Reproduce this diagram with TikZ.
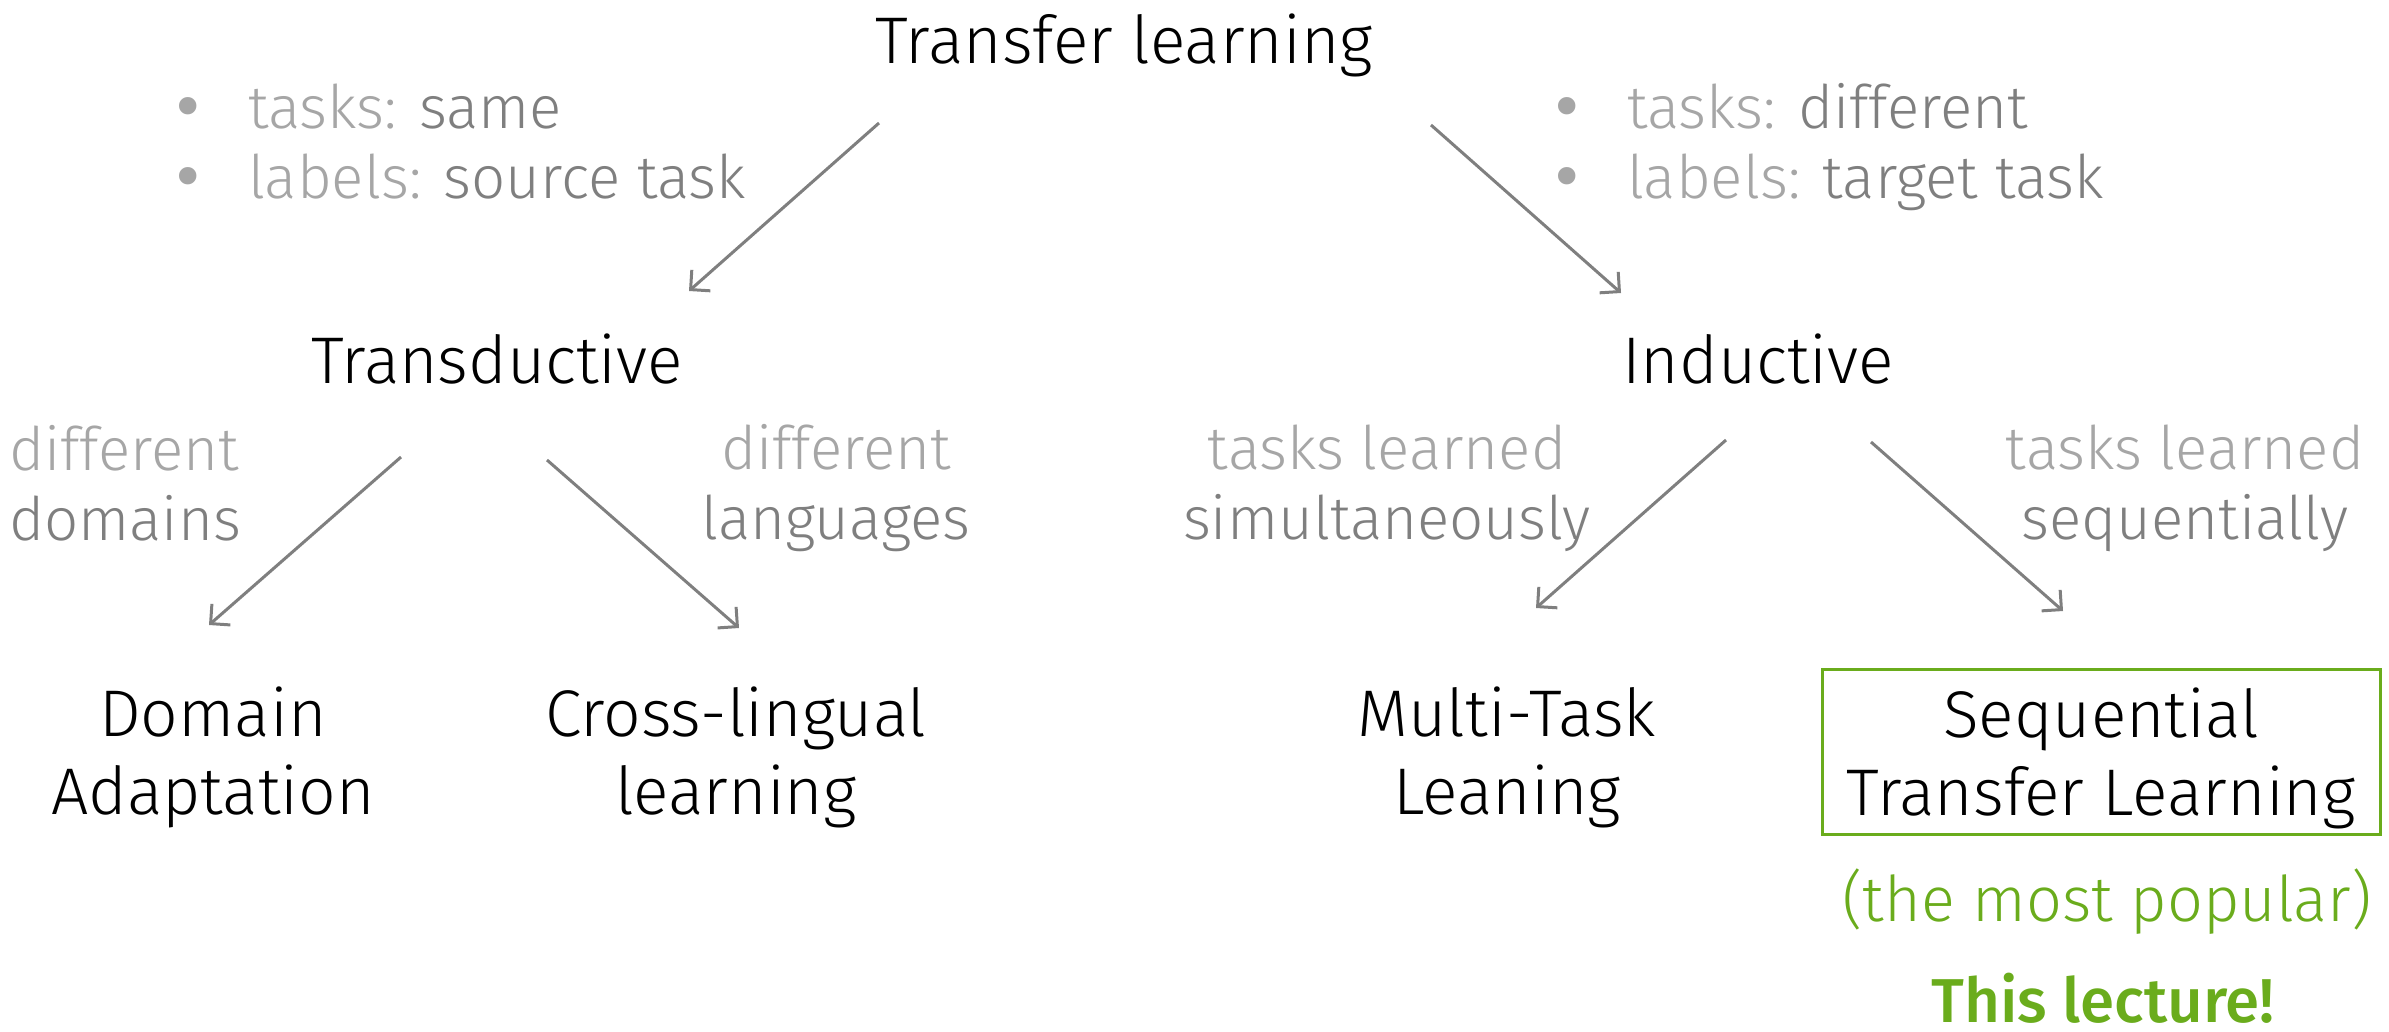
\documentclass[tikz,border=0pt]{standalone}
\usepackage{fontspec}
\setmainfont{Fira Sans Light}[BoldFont={Fira Sans Medium}]
\newfontfamily\bulfont{DejaVu Sans}
\usetikzlibrary{arrows.meta}
\definecolor{lg}{HTML}{A6A6A6}
\definecolor{dg}{HTML}{7F7F7F}
\definecolor{gr}{RGB}{106,172,28}
\newcommand{\bul}{\makebox[78pt][l]{\color{lg}\bulfont •}}
\tikzset{
  main/.style={font=\fontsize{66}{78}\selectfont, align=center, inner sep=0pt},
  note/.style={font=\fontsize{60}{70}\selectfont, align=center, inner sep=0pt},
  arr/.style={draw=dg, line width=3pt, -{Straight Barb[length=14pt,width=28pt]}},
  pick/.style={draw=gr, line width=3pt, minimum width=558pt, minimum height=165pt}
}
\begin{document}
\begin{tikzpicture}[x=1pt,y=-1pt]
\useasboundingbox (0,0) rectangle (2389,1031);
% main nodes
\node[main] (tl) at (1124,45) {Transfer learning};
\node[main] (td) at (497,359) {Transductive};
\node[main] (id) at (1758,359) {Inductive};
\node[main] (da) at (213,757) {Domain\\Adaptation};
\node[main] (cl) at (736,757) {Cross-lingual\\learning};
\node[main] (mt) at (1507,757) {Multi-Task\\Leaning};
\node[main,pick] (st) at (2101,752) {\rule{0pt}{62pt}Sequential\\Transfer Learning};
\node[note, text=gr, font=\fontsize{63}{70}\selectfont] (pop) at (2107,902) {(the most popular)};
\node[note, text=gr, font=\fontsize{62}{70}\selectfont\bfseries] (lec) at (2103,998) {This lecture!};
% bullet notes
\node[note, anchor=base west] (b1) at (170,128) {\bul{\color{lg}tasks:} {\color{dg}same}};
\node[note, anchor=base west] (b2) at (170,198) {\bul{\color{lg}labels:} {\color{dg}source task}};
\node[note, anchor=base west] (b3) at (1549,128) {\bul{\color{lg}tasks:} {\color{dg}different}};
\node[note, anchor=base west] (b4) at (1549,198) {\bul{\color{lg}labels:} {\color{dg}target task}};
% edge labels
\node[note, anchor=west, align=left] (n1) at (9,483) {{\color{lg}different}\\{\color{dg}domains}};
\node[note] (n2) at (836,488) {{\color{lg}different}\\{\color{dg}languages}};
\node[note] (n3) at (1387,488) {{\color{lg}tasks learned}\\{\color{dg}simultaneously}};
\node[note] (n4) at (2185,488) {{\color{lg}tasks learned}\\{\color{dg}sequentially}};
% connector ends
\coordinate (a1s) at (879,123);  \coordinate (a1e) at (689,291);
\coordinate (a2s) at (1431,125); \coordinate (a2e) at (1621,293);
\coordinate (a3s) at (401,457);  \coordinate (a3e) at (209,625);
\coordinate (a4s) at (547,460);  \coordinate (a4e) at (739,628);
\coordinate (a5s) at (1726,440); \coordinate (a5e) at (1536,608);
\coordinate (a6s) at (1871,442); \coordinate (a6e) at (2063,611);
\draw[arr] (a1s) -- (a1e);
\draw[arr] (a2s) -- (a2e);
\draw[arr] (a3s) -- (a3e);
\draw[arr] (a4s) -- (a4e);
\draw[arr] (a5s) -- (a5e);
\draw[arr] (a6s) -- (a6e);
\end{tikzpicture}
\end{document}
